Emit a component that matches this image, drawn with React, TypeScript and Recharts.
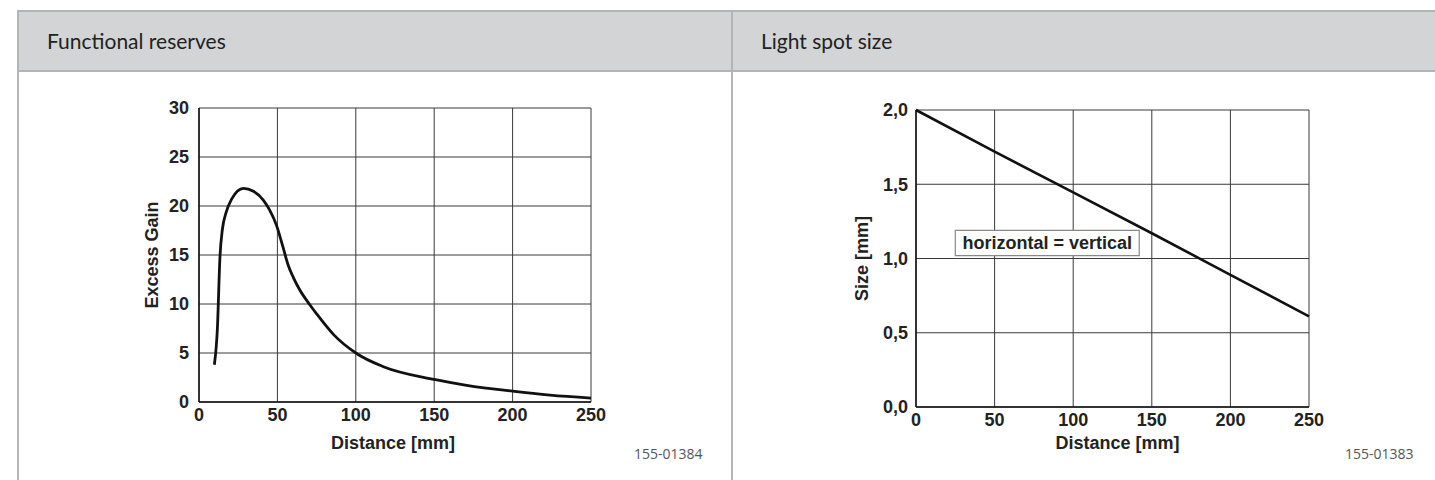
import React from 'react';
import { LineChart, Line, XAxis, YAxis, CartesianGrid, ReferenceArea } from 'recharts';

// Functional reserves (left chart)
const gainDistance = [9.8, 11.7, 13.4, 14.9, 17.2, 20.8, 28.3, 34.7, 41, 45, 49.5, 53.4, 57, 60.2, 64.4, 70.8, 75, 85.7, 100, 117.6, 150, 170.7, 200, 223.9, 250];
const gainValues = [3.8, 7.4, 14.9, 17.6, 19.3, 20.7, 21.8, 21.5, 20.6, 19.6, 18.0, 15.9, 13.9, 12.7, 11.4, 9.9, 9.0, 6.9, 5.0, 3.6, 2.3, 1.7, 1.1, 0.7, 0.4];
const gainXTicks = [0, 50, 100, 150, 200, 250];
const gainYTicks = [0, 5, 10, 15, 20, 25, 30];

// Light spot size (right chart)
const spotDistance = [0, 50, 100, 150, 200, 250];
const spotSize = [2.0, 1.72, 1.445, 1.17, 0.89, 0.61];
const spotXTicks = [0, 50, 100, 150, 200, 250];
const spotYTicks = [0, 0.5, 1.0, 1.5, 2.0];
const spotNote = 'horizontal = vertical';
const spotNoteBox = { x1: 25, x2: 142, y1: 1.02, y2: 1.19 };

const gainData = gainDistance.map((d, i) => ({ d, v: gainValues[i] }));
const spotData = spotDistance.map((d, i) => ({ d, v: spotSize[i] }));

const tickFont = { fontSize: 18, fontWeight: 700, fill: '#222', fontFamily: '"Liberation Sans", Arial, sans-serif' };
const GRID = '#3a3a3a';
const BORDER = '#b4b4b4';

const yLabel = (text: string, offset: number) => (props: any) => {
  const vb = props.viewBox || {};
  const cx = vb.x + vb.width - offset;
  const cy = vb.y + vb.height / 2;
  return (
    <text x={cx} y={cy} transform={`rotate(-90 ${cx} ${cy})`} textAnchor="middle" dominantBaseline="central" style={tickFont as any}>
      {text}
    </text>
  );
};

const xLabel = (text: string, offset: number, dx: number) => (props: any) => {
  const vb = props.viewBox || {};
  const cx = vb.x + vb.width / 2 + dx;
  const cy = vb.y + offset;
  return (
    <text x={cx} y={cy} textAnchor="middle" dominantBaseline="central" style={tickFont as any}>
      {text}
    </text>
  );
};

const fmtComma = (v: number) => v.toFixed(1).replace('.', ',');

export default function App() {
  return (
    <div style={{ position: 'absolute', left: 0, top: 0, width: 1435, height: 480, background: '#fff', overflow: 'hidden' }}>
      {/* table frame */}
      <div style={{ position: 'absolute', left: 17, top: 10, width: 1418, height: 62, background: '#d3d4d6', boxSizing: 'border-box', borderTop: `2px solid ${BORDER}`, borderBottom: `2px solid ${BORDER}` }} />
      <div style={{ position: 'absolute', left: 17, top: 10, width: 2, height: 470, background: BORDER }} />
      <div style={{ position: 'absolute', left: 731, top: 10, width: 2, height: 470, background: BORDER }} />
      <div style={{ position: 'absolute', left: 47, top: 26, fontFamily: 'Lato, "Open Sans", sans-serif', fontSize: 21, color: '#222', lineHeight: '30px' }}>Functional reserves</div>
      <div style={{ position: 'absolute', left: 761, top: 26, fontFamily: 'Lato, "Open Sans", sans-serif', fontSize: 21, color: '#222', lineHeight: '30px' }}>Light spot size</div>
      <div style={{ position: 'absolute', left: 634, top: 444, fontFamily: '"Open Sans", sans-serif', fontSize: 14, color: '#555', lineHeight: '20px' }}>155-01384</div>
      <div style={{ position: 'absolute', left: 1345, top: 444, fontFamily: '"Open Sans", sans-serif', fontSize: 14, color: '#555', lineHeight: '20px' }}>155-01383</div>

      {/* left chart */}
      <div style={{ position: 'absolute', left: 100, top: 80 }}>
        <LineChart width={520} height={400} data={gainData} margin={{ top: 28, right: 29, bottom: 28, left: 5 }}>
          <CartesianGrid stroke={GRID} strokeWidth={1} horizontalValues={gainYTicks} verticalValues={gainXTicks} />
          <XAxis dataKey="d" type="number" domain={[0, 250]} ticks={gainXTicks} interval={0} tickLine={false} tickSize={4} axisLine={{ stroke: '#111', strokeWidth: 1.5 }} tick={tickFont} height={50}
            label={{ content: xLabel('Distance [mm]', 41, -2) } as any} />
          <YAxis type="number" domain={[0, 30]} ticks={gainYTicks} interval={0} tickLine={false} tickSize={8} axisLine={{ stroke: '#111', strokeWidth: 1.5 }} tick={tickFont} width={94}
            label={{ content: yLabel('Excess Gain', 47) } as any} />
          <Line type="monotone" dataKey="v" stroke="#111" strokeWidth={2.8} dot={false} isAnimationActive={false} />
        </LineChart>
      </div>

      {/* right chart */}
      <div style={{ position: 'absolute', left: 810, top: 80 }}>
        <LineChart width={530} height={400} data={spotData} margin={{ top: 30, right: 31, bottom: 23, left: 12 }}>
          <CartesianGrid stroke={GRID} strokeWidth={1} horizontalValues={spotYTicks} verticalValues={spotXTicks} />
          <XAxis dataKey="d" type="number" domain={[0, 250]} ticks={spotXTicks} interval={0} tickLine={false} tickSize={4} axisLine={{ stroke: '#111', strokeWidth: 1.5 }} tick={tickFont} height={50}
            label={{ content: xLabel('Distance [mm]', 36, 5) } as any} />
          <YAxis type="number" domain={[0, 2]} ticks={spotYTicks} interval={0} tickLine={false} tickSize={6} axisLine={{ stroke: '#111', strokeWidth: 1.5 }} tick={tickFont} tickFormatter={fmtComma} width={94}
            label={{ content: yLabel('Size [mm]', 54) } as any} />
          <ReferenceArea x1={spotNoteBox.x1} x2={spotNoteBox.x2} y1={spotNoteBox.y1} y2={spotNoteBox.y2} fill="#fff" fillOpacity={1} stroke="#888" strokeWidth={1.2}
            label={{ value: spotNote, position: 'center', style: tickFont } as any} />
          <Line type="linear" dataKey="v" stroke="#111" strokeWidth={2.6} dot={false} isAnimationActive={false} />
        </LineChart>
      </div>
    </div>
  );
}
